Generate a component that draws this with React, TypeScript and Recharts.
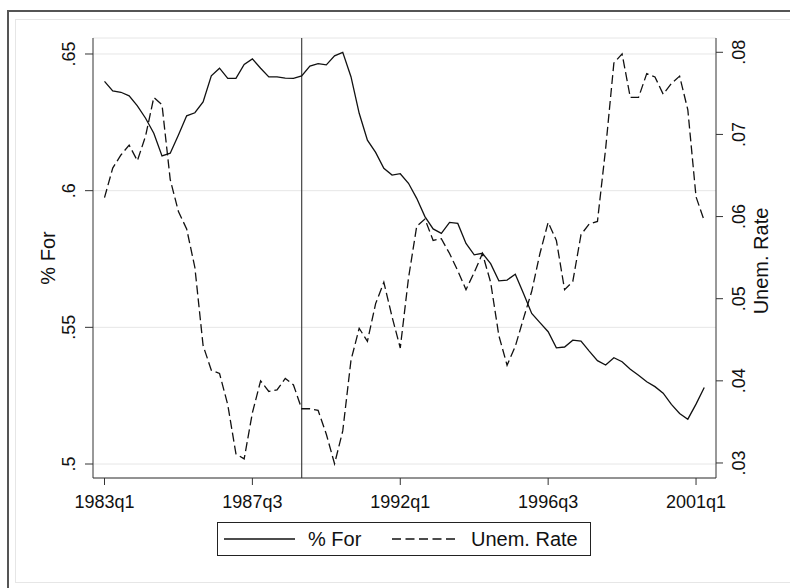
import React from "react"
import {
  LineChart,
  Line,
  XAxis,
  YAxis,
  CartesianGrid,
  ReferenceLine,
  Legend
} from "recharts"

// quarterly categories, 1983q1 .. 2001q2
const firstYear = 1983
const quarterCount = 74
const quarters = Array.from(
  { length: quarterCount },
  (_, i) => `${firstYear + Math.floor(i / 4)}q${(i % 4) + 1}`
)

// % For (left axis)
const pctFor = [
  0.64, 0.6365, 0.636, 0.6347, 0.631, 0.6265, 0.621, 0.6127, 0.6137, 0.6204,
  0.6274, 0.6285, 0.6325, 0.642, 0.6448, 0.6411, 0.6411, 0.6462, 0.6482, 0.6448,
  0.6416, 0.6416, 0.6412, 0.6411, 0.642, 0.6456, 0.6465, 0.646, 0.6493, 0.6506,
  0.6417, 0.6283, 0.6185, 0.614, 0.6082, 0.6057, 0.6062, 0.6027, 0.5972, 0.5905,
  0.586, 0.5844, 0.5884, 0.588, 0.5807, 0.5765, 0.5771, 0.5733, 0.567, 0.5673,
  0.5694, 0.5624, 0.5551, 0.5517, 0.5484, 0.5425, 0.5428, 0.5453, 0.545, 0.5413,
  0.5378, 0.5362, 0.5389, 0.5374, 0.5347, 0.5325, 0.5301, 0.5283, 0.5259, 0.5218,
  0.5185, 0.5164, 0.5219, 0.528
]

// Unem. Rate (right axis)
const unemRate = [
  0.0623, 0.0659, 0.0675, 0.0687, 0.0668, 0.0698, 0.0745, 0.0736, 0.0645, 0.0606,
  0.0585, 0.0538, 0.0443, 0.0413, 0.0409, 0.0371, 0.0311, 0.0305, 0.0361, 0.04,
  0.0387, 0.0389, 0.0403, 0.0395, 0.0366, 0.0366, 0.0364, 0.0335, 0.0299, 0.0339,
  0.0425, 0.0464, 0.0448, 0.0494, 0.052, 0.0478, 0.044, 0.0525, 0.0588, 0.0597,
  0.0571, 0.0573, 0.0555, 0.0534, 0.0511, 0.0532, 0.0555, 0.052, 0.0455, 0.0419,
  0.0442, 0.0476, 0.0509, 0.0555, 0.0593, 0.0571, 0.0511, 0.0521, 0.0578, 0.0591,
  0.0594, 0.0683, 0.0787, 0.0798, 0.0745, 0.0745, 0.0774, 0.077, 0.0749, 0.0762,
  0.0771, 0.073, 0.0624, 0.0595
]

const xTickLabels = ["1983q1", "1987q3", "1992q1", "1996q3", "2001q1"]
const leftTicks = [0.5, 0.55, 0.6, 0.65]
const rightTicks = [0.03, 0.04, 0.05, 0.06, 0.07, 0.08]
const markerQuarter = "1989q1"

const rows = quarters.map((q, i) => ({
  t: i,
  quarter: q,
  pctFor: pctFor[i],
  unem: unemRate[i]
}))

const FONT = "'Liberation Sans', Arial, Helvetica, sans-serif"
const INK = "#111"
const AXIS = "#333"

// .65 / .6 / .08 style labels
const fmt = (v: number) => v.toFixed(2).replace(/0+$/, "").replace(/^0/, "")

const LeftTick = ({ x, y, payload }: any) => {
  const bx = x - 10
  return (
    <text x={bx} y={y} transform={`rotate(-90 ${bx} ${y})`} textAnchor="middle"
      fontSize={18} fill={INK} fontFamily={FONT}>
      {fmt(payload.value)}
    </text>
  )
}

const RightTick = ({ x, y, payload }: any) => {
  const bx = x + 22
  return (
    <text x={bx} y={y} transform={`rotate(-90 ${bx} ${y})`} textAnchor="middle"
      fontSize={18} fill={INK} fontFamily={FONT}>
      {fmt(payload.value)}
    </text>
  )
}

const BottomTick = ({ x, y, payload }: any) => (
  <text x={x} y={y + 23} textAnchor="middle" fontSize={18} fill={INK} fontFamily={FONT}>
    {quarters[payload.value]}
  </text>
)

const AxisTitle = ({ text, x, y }: { text: string; x: number; y: number }) => (
  <text x={x} y={y} transform={`rotate(-90 ${x} ${y})`} textAnchor="middle"
    fontSize={20} fill={INK} fontFamily={FONT}>
    {text}
  </text>
)

const LegendBox = () => (
  <div style={{ width: 374, height: 34, border: "1px solid #222", boxSizing: "border-box", background: "#fff" }}>
    <svg width={372} height={32} style={{ display: "block" }}>
      <line x1={6} x2={77} y1={16} y2={16} stroke={INK} strokeWidth={1.3} />
      <text x={90} y={23} fontSize={20} fill={INK} fontFamily={FONT}>% For</text>
      <line x1={174} x2={241} y1={16} y2={16} stroke={INK} strokeWidth={1.3} strokeDasharray="9 4.5" />
      <text x={253} y={23} fontSize={20} fill={INK} fontFamily={FONT}>Unem. Rate</text>
    </svg>
  </div>
)

export default function App() {
  return (
    <div style={{ position: "absolute", left: 0, top: 0, width: 790, height: 588, background: "#fff", overflow: "hidden" }}>
      {/* graph region frames */}
      <div style={{ position: "absolute", left: 7, top: 10, width: 820, height: 620, border: "2px solid #555", boxSizing: "border-box" }} />
      <div style={{ position: "absolute", left: 15, top: 19, width: 820, height: 564, border: "1px solid #e6e6e6", boxSizing: "border-box" }} />

      <div style={{ position: "absolute", left: 0, top: 0 }}>
        <LineChart width={790} height={588} data={rows} margin={{ top: 38, right: 0, bottom: 80, left: 0 }}>
          <CartesianGrid yAxisId="left" vertical={false} stroke="#e6e6e6" strokeWidth={1} />
          <XAxis
            dataKey="t"
            type="number"
            domain={[-1.4, 74.43]}
            ticks={xTickLabels.map(l => quarters.indexOf(l))}
            interval={0}
            height={30}
            tickSize={7}
            tickMargin={0}
            stroke={AXIS}
            tick={<BottomTick />}
            allowDataOverflow
          />
          <YAxis
            yAxisId="left"
            orientation="left"
            width={93}
            domain={[0.49488, 0.65585]}
            ticks={leftTicks}
            interval={0}
            tickSize={8}
            tickMargin={0}
            stroke={AXIS}
            tick={<LeftTick />}
            allowDataOverflow
            label={(p: any) => {
              const vb = p && p.viewBox ? p.viewBox : { x: 0, y: 38, width: 93, height: 440 }
              return <AxisTitle text="% For" x={vb.x + 55} y={vb.y + vb.height / 2} />
            }}
          />
          <YAxis
            yAxisId="right"
            orientation="right"
            width={74}
            domain={[0.02817, 0.08174]}
            ticks={rightTicks}
            interval={0}
            tickSize={7}
            tickMargin={0}
            stroke={AXIS}
            tick={<RightTick />}
            allowDataOverflow
            label={(p: any) => {
              const vb = p && p.viewBox ? p.viewBox : { x: 716, y: 38, width: 74, height: 440 }
              return <AxisTitle text="Unem. Rate" x={vb.x + 52} y={vb.y + vb.height / 2 + 3} />
            }}
          />
          <ReferenceLine yAxisId="left" x={quarters.indexOf(markerQuarter)} stroke="#444" strokeWidth={1.2} />
          <Line
            yAxisId="left"
            type="linear"
            dataKey="pctFor"
            name="% For"
            stroke={INK}
            strokeWidth={1.3}
            dot={false}
            isAnimationActive={false}
          />
          <Line
            yAxisId="right"
            type="linear"
            dataKey="unem"
            name="Unem. Rate"
            stroke={INK}
            strokeWidth={1.3}
            strokeDasharray="9 4"
            dot={false}
            isAnimationActive={false}
          />
          <Legend
            layout="horizontal"
            verticalAlign="middle"
            align="center"
            wrapperStyle={{ left: 217, top: 522, width: 374, height: 34 }}
            content={() => <LegendBox />}
          />
        </LineChart>
      </div>
    </div>
  )
}
